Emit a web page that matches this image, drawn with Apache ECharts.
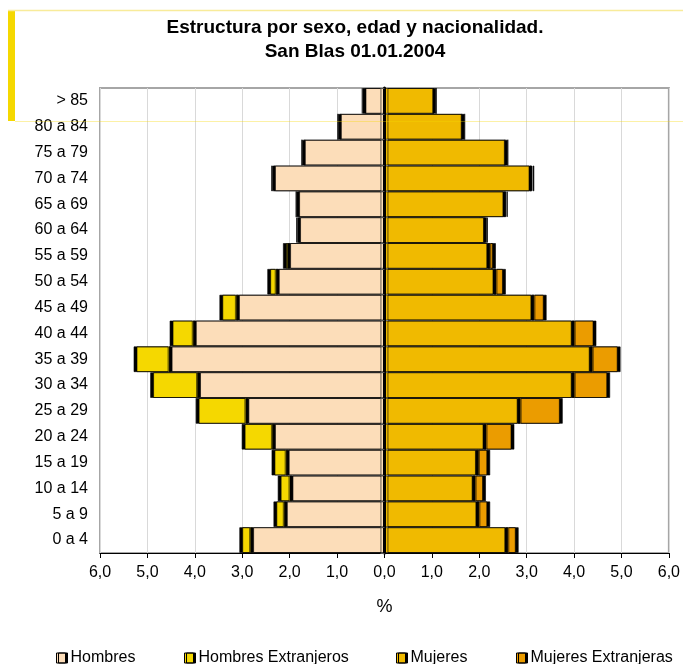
<!DOCTYPE html>
<html><head><meta charset="utf-8">
<script src="https://cdn.jsdelivr.net/npm/echarts@6/dist/echarts.min.js"></script>
<style>html,body{margin:0;padding:0;background:#fff}#c{width:683px;height:664px}</style>
</head><body><div id="c"></div>
<script>
// ---- data (percent of population) ----
const categories = ['0 a 4','5 a 9','10 a 14','15 a 19','20 a 24','25 a 29','30 a 34','35 a 39','40 a 44','45 a 49','50 a 54','55 a 59','60 a 64','65 a 69','70 a 74','75 a 79','80 a 84','> 85'];
const hombres = [2.77,2.06,1.94,2.02,2.31,2.87,3.89,4.49,3.98,3.07,2.23,1.99,1.78,1.80,2.31,1.68,0.92,0.40];
const hombresExtranjeros = [0.23,0.22,0.25,0.30,0.64,1.05,0.99,0.74,0.49,0.35,0.18,0.09,0.02,0.00,0.01,0.00,0.00,0.01];
const mujeres = [2.55,1.94,1.86,1.93,2.09,2.81,3.95,4.33,3.95,3.10,2.30,2.17,2.10,2.51,3.06,2.54,1.63,1.03];
const mujeresExtranjeras = [0.22,0.23,0.22,0.24,0.59,0.89,0.75,0.59,0.46,0.26,0.20,0.12,0.02,0.03,0.04,0.00,0.00,0.00];
const xMin = -6, xMax = 6, xInterval = 1;
const titleLines = ['Estructura por sexo, edad y nacionalidad.', 'San Blas 01.01.2004'];
const seriesNames = ['Hombres','Hombres Extranjeros','Mujeres','Mujeres Extranjeras'];

const FONT = '"Liberation Sans", Arial, sans-serif';
const chart = echarts.init(document.getElementById('c'), null, {renderer:'canvas'});

function bar(name, data, stack, color, z, dir) {
  return {
    name, type:'bar', stack, data, z, yAxisIndex:1,
    barCategoryGap:'0%', barGap:'-100%',
    animation:false,
    emphasis:{disabled:true},
    itemStyle:{color, borderColor:'rgba(0,0,0,0.6)', borderWidth:1,
      shadowColor:'#000', shadowBlur:0, shadowOffsetX: dir*3, shadowOffsetY:0}
  };
}
function legend(name, left) {
  return {data:[name], left, top:650, padding:0, itemWidth:9, itemHeight:10, itemGap:0,
    selectedMode:false, icon:'rect',
    itemStyle:{borderColor:'#000', borderWidth:1, shadowColor:'#000', shadowBlur:0, shadowOffsetX:2},
    textStyle:{fontSize:16, color:'#000', fontFamily:FONT}};
}

chart.setOption({
  animation:false,
  backgroundColor:'#fff',
  textStyle:{fontFamily:FONT},
  grid:{left:100, right:13, top:88, bottom:111, show:true, borderColor:'#a6a6a6', borderWidth:2, backgroundColor:'#fff'},
  xAxis:{
    type:'value', min:xMin, max:xMax, interval:xInterval,
    axisLine:{show:true, onZero:false, lineStyle:{color:'#000', width:1}},
    axisTick:{show:true, length:5, lineStyle:{color:'#000'}},
    splitLine:{show:true, lineStyle:{color:'#d9d9d9', width:1}},
    axisLabel:{fontSize:16, color:'#000', margin:12, fontFamily:FONT,
      formatter:v => Math.abs(v).toFixed(1).replace('.', ',')},
    name:'%', nameLocation:'middle', nameGap:45,
    nameTextStyle:{fontSize:18, color:'#000', fontFamily:FONT}
  },
  yAxis:[
    {type:'category', data:categories, z:10,
      axisLine:{show:true, onZero:true, lineStyle:{color:'#000', width:3}},
      axisTick:{show:true, length:4, lineStyle:{color:'#555'}},
      axisLabel:{show:false}, splitLine:{show:false}},
    {type:'category', data:categories, position:'left',
      axisLine:{show:false, onZero:false}, axisTick:{show:false}, splitLine:{show:false},
      axisLabel:{fontSize:16, color:'#000', margin:12, fontFamily:FONT}}
  ],
  legend:[legend(seriesNames[0],56), legend(seriesNames[1],184), legend(seriesNames[2],396), legend(seriesNames[3],516)],
  graphic:[
    {type:'rect', shape:{x:8, y:10, width:7, height:111}, style:{fill:'#F5D800'}, z:1},
    {type:'line', shape:{x1:8, y1:10.5, x2:683, y2:10.5}, style:{stroke:'#F8EB9A', lineWidth:1.5}, z:1},
    {type:'line', shape:{x1:15, y1:121.5, x2:683, y2:121.5}, style:{stroke:'rgba(245,216,0,0.35)', lineWidth:1}, z:100},
    {type:'text', x:355, y:28, z:5, style:{text:titleLines[0], font:'bold 19px ' + FONT, fill:'#000',
      align:'center', verticalAlign:'middle', textAlign:'center', textVerticalAlign:'middle'}},
    {type:'text', x:355, y:52, z:5, style:{text:titleLines[1], font:'bold 19px ' + FONT, fill:'#000',
      align:'center', verticalAlign:'middle', textAlign:'center', textVerticalAlign:'middle'}}
  ],
  series:[
    bar(seriesNames[0], hombres.map(v => -v), 'h', '#FCDDB9', 3, -1),
    bar(seriesNames[1], hombresExtranjeros.map(v => -v), 'h', '#F5D800', 2, -1),
    bar(seriesNames[2], mujeres, 'm', '#F0BA00', 3, 1),
    bar(seriesNames[3], mujeresExtranjeras, 'm', '#EB9C00', 2, 1)
  ]
});
</script>
</body></html>
